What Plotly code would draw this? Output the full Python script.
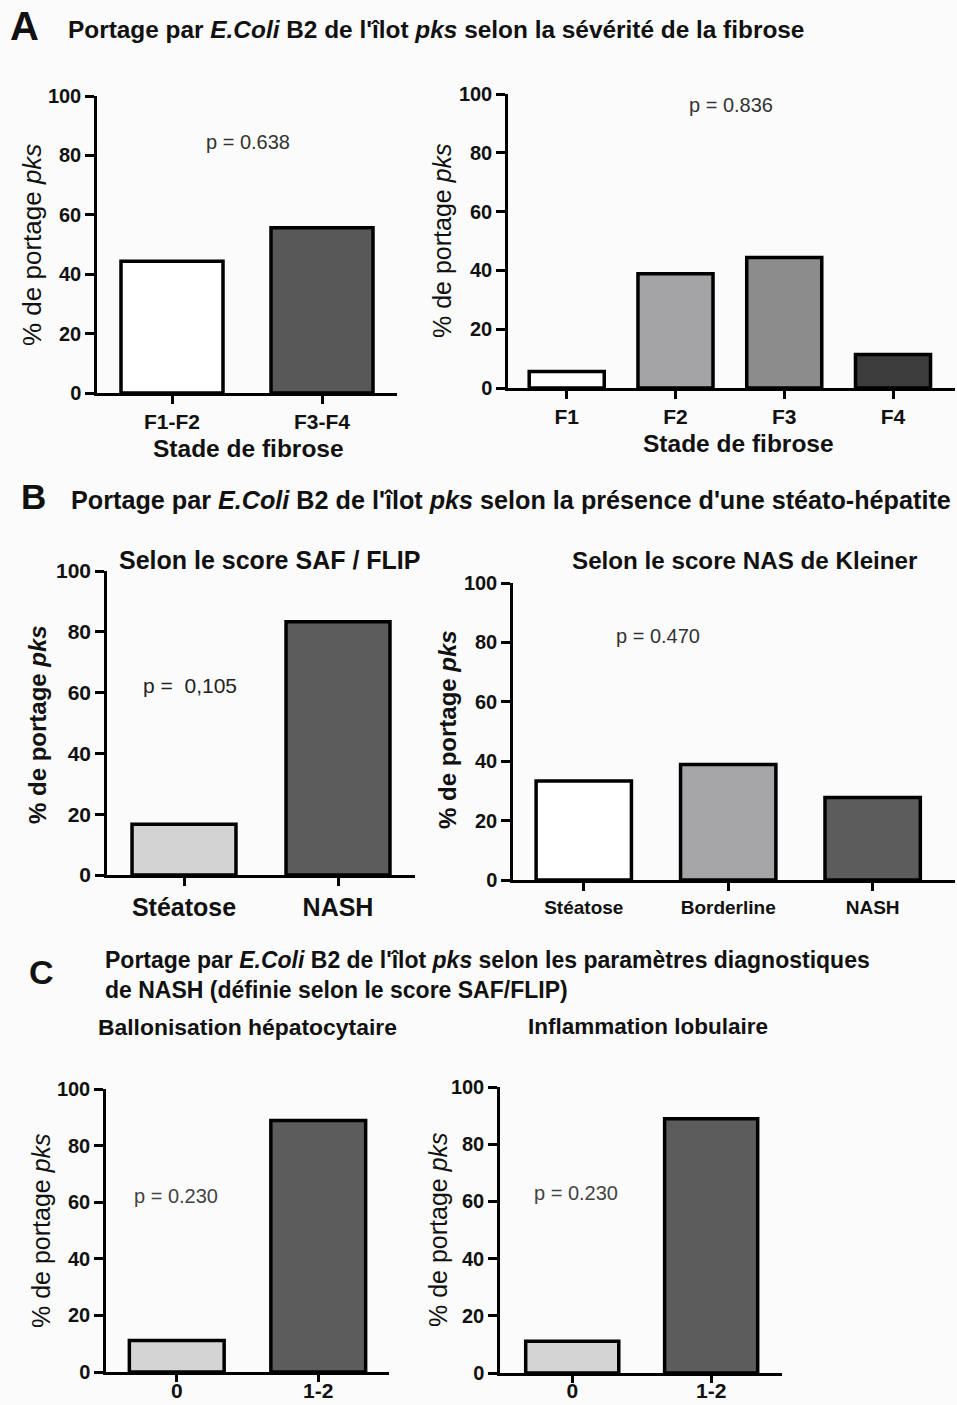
import plotly.graph_objects as go

W, H = 957, 1405
FONT = "Arial, Liberation Sans, sans-serif"

# ---------------- data ----------------
a1_cats = ["F1-F2", "F3-F4"]
a1_vals = [44.4, 55.6]
a1_cols = ["#ffffff", "#585858"]

a2_cats = ["F1", "F2", "F3", "F4"]
a2_vals = [5.6, 38.9, 44.4, 11.4]
a2_cols = ["#ffffff", "#a4a4a7", "#8c8c8c", "#3c3c3c"]

b1_cats = ["Stéatose", "NASH"]
b1_vals = [16.7, 83.3]
b1_cols = ["#d3d3d3", "#5c5c5c"]

b2_cats = ["Stéatose", "Borderline", "NASH"]
b2_vals = [33.3, 38.9, 27.8]
b2_cols = ["#ffffff", "#a6a6a8", "#5c5c5c"]

c1_cats = ["0", "1-2"]
c1_vals = [11.1, 88.9]
c1_cols = ["#d4d4d4", "#5c5c5c"]

c2_cats = ["0", "1-2"]
c2_vals = [11.1, 88.9]
c2_cols = ["#d4d4d4", "#5c5c5c"]

y_ticks = [0, 20, 40, 60, 80, 100]
y_title = "% de portage <i>pks</i>"

# ---------------- helpers ----------------
def px_x(x):
    return x / W

def px_y(y):
    return 1 - y / H

fig = go.Figure()

panels = [
    dict(cats=a1_cats, vals=a1_vals, cols=a1_cols, xl=97, xr=397, y0=393, y100=96,
         xrange=[-0.5, 1.5], bw=0.68, xts=21, yts=20, xso=0, xtl=8),
    dict(cats=a2_cats, vals=a2_vals, cols=a2_cols, xl=508, xr=955, y0=388, y100=94,
         xrange=[-0.54, 3.57], bw=0.69, xts=21, yts=20, xso=0, xtl=8),
    dict(cats=b1_cats, vals=b1_vals, cols=b1_cols, xl=107, xr=415, y0=875, y100=571,
         xrange=[-0.5, 1.5], bw=0.675, xts=25, yts=21, xso=0, xtl=8),
    dict(cats=b2_cats, vals=b2_vals, cols=b2_cols, xl=513, xr=955, y0=880, y100=583,
         xrange=[-0.49, 2.57], bw=0.66, xts=19, yts=20, xso=0, xtl=8),
    dict(cats=c1_cats, vals=c1_vals, cols=c1_cols, xl=106, xr=389, y0=1372, y100=1089,
         xrange=[-0.5, 1.5], bw=0.67, xts=21, yts=20, xso=-9, xtl=7),
    dict(cats=c2_cats, vals=c2_vals, cols=c2_cols, xl=500, xr=782, y0=1373, y100=1087,
         xrange=[-0.52, 1.51], bw=0.67, xts=21, yts=20, xso=-10, xtl=7),
]

layout_axes = {}
for i, p in enumerate(panels, start=1):
    xa = "x" if i == 1 else f"x{i}"
    ya = "y" if i == 1 else f"y{i}"
    fig.add_trace(go.Bar(
        x=p["cats"], y=p["vals"], xaxis=xa, yaxis=ya, width=p["bw"],
        marker=dict(color=p["cols"], line=dict(color="#000000", width=3.5)),
        showlegend=False, hoverinfo="x+y",
    ))
    xkey = "xaxis" if i == 1 else f"xaxis{i}"
    ykey = "yaxis" if i == 1 else f"yaxis{i}"
    layout_axes[xkey] = dict(
        domain=[px_x(p["xl"]), px_x(p["xr"])], anchor=ya, type="category",
        range=p["xrange"], showline=True, linecolor="#000", linewidth=2.5,
        ticks="outside", ticklen=p["xtl"], tickwidth=2.5, tickcolor="#000",
        ticklabelstandoff=p["xso"],
        showgrid=False, zeroline=False, fixedrange=True, automargin=False,
        tickfont=dict(family=FONT, size=p["xts"], color="#111", weight="bold"),
    )
    layout_axes[ykey] = dict(
        domain=[px_y(p["y0"]), px_y(p["y100"])], anchor=xa,
        range=[0, 100], tickvals=y_ticks, showline=True, linecolor="#000", linewidth=2.5,
        ticks="outside", ticklen=9, tickwidth=2.5, tickcolor="#000",
        showgrid=False, zeroline=False, fixedrange=True, automargin=False,
        tickfont=dict(family=FONT, size=p["yts"], color="#111", weight="bold"),
    )

fig.update_layout(**layout_axes)

def ann(text, x, y, size, bold=False, xanchor="center", color="#111", angle=0):
    return dict(text=text, x=px_x(x), y=px_y(y), xref="paper", yref="paper",
                xanchor=xanchor, yanchor="middle", showarrow=False, align="left",
                textangle=angle,
                font=dict(family=FONT, size=size, color=color, weight="bold" if bold else "normal"))

annotations = [
    ann("A", 24, 26, 40, bold=True),
    ann("Portage par <i>E.Coli</i> B2 de l'îlot <i>pks</i> selon la sévérité de la fibrose", 66, 29, 24.4, bold=True, xanchor="left"),
    ann("p = 0.638", 248, 142, 20, color="#333"),
    ann("p = 0.836", 731, 105, 20, color="#333"),
    ann("Stade de fibrose", 248, 449, 24.5, bold=True),
    ann("Stade de fibrose", 738, 443, 24.5, bold=True),
    ann(y_title, 32, 245, 26, angle=-90),
    ann(y_title, 442, 241, 25, angle=-90),

    ann("B", 33, 497, 35, bold=True),
    ann("Portage par <i>E.Coli</i> B2 de l'îlot <i>pks</i> selon la présence d'une stéato-hépatite", 69, 500, 25.2, bold=True, xanchor="left"),
    ann("Selon le score SAF / FLIP", 269, 560, 25, bold=True),
    ann("Selon le score NAS de Kleiner", 745, 560, 24.2, bold=True),
    ann("p =  0,105", 190, 685, 21, color="#222"),
    ann("p = 0.470", 658, 636, 20, color="#333"),
    ann(y_title, 37, 725, 24, bold=True, angle=-90),
    ann(y_title, 447, 730, 24, bold=True, angle=-90),

    ann("C", 41, 972, 34, bold=True),
    ann("Portage par <i>E.Coli</i> B2 de l'îlot <i>pks</i> selon les paramètres diagnostiques<br>de NASH (définie selon le score SAF/FLIP)", 103, 975, 23, bold=True, xanchor="left"),
    ann("Ballonisation hépatocytaire", 96, 1027, 22.9, bold=True, xanchor="left"),
    ann("Inflammation lobulaire", 648, 1026, 22.5, bold=True),
    ann("p = 0.230", 176, 1196, 20, color="#444"),
    ann("p = 0.230", 576, 1193, 20, color="#444"),
    ann(y_title, 41, 1231, 25, angle=-90),
    ann(y_title, 438, 1230, 25, angle=-90),
]

fig.update_layout(
    width=W, height=H, margin=dict(l=0, r=0, t=0, b=0, autoexpand=False),
    paper_bgcolor="#fbfbfb", plot_bgcolor="rgba(0,0,0,0)",
    annotations=annotations, showlegend=False,
    font=dict(family=FONT, color="#111"),
)

fig.write_html("out.html", config={"displayModeBar": False},
               post_script="document.body.style.margin='0px';document.body.style.overflow='hidden';")
